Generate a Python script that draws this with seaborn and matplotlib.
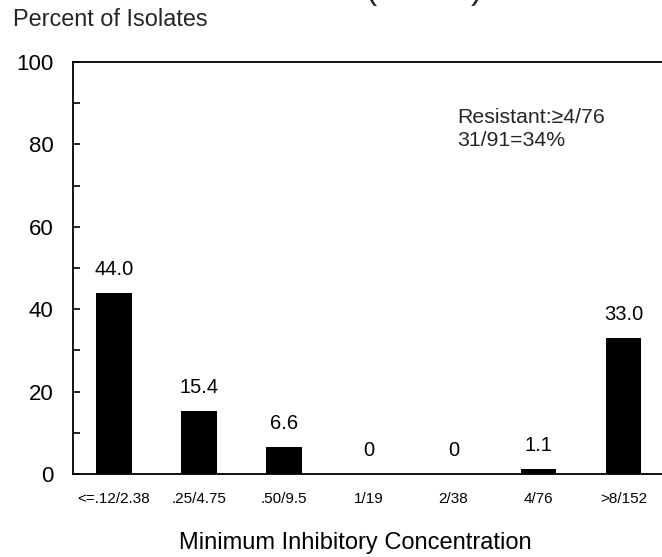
import matplotlib
matplotlib.use("Agg")
import matplotlib.pyplot as plt
import seaborn as sns
import pandas as pd
from matplotlib.ticker import MultipleLocator

categories = ["<=.12/2.38", ".25/4.75", ".50/9.5", "1/19", "2/38", "4/76", ">8/152"]
percent = [44.0, 15.4, 6.6, 0.0, 0.0, 1.1, 33.0]
value_labels = ["44.0", "15.4", "6.6", "0", "0", "1.1", "33.0"]
y_ticks = [0, 20, 40, 60, 80, 100]

sns.set_theme(style="white")
plt.rcParams['font.family'] = ['Liberation Sans', 'DejaVu Sans']

df = pd.DataFrame({"mic": categories, "pct": percent})

fig = plt.figure(figsize=(6.62, 5.57), dpi=100)
ax = fig.add_axes([73/662, 83/557, 593/662, 412/557])

sns.barplot(data=df, x="mic", y="pct", color="black", width=0.42,
            saturation=1, ax=ax, edgecolor="black", linewidth=0)

for i, (v, lab) in enumerate(zip(percent, value_labels)):
    ax.text(i, v + 3.4, lab, ha="center", va="bottom", fontsize=14.5, color="black")

ax.set_xlim(-0.48, 6.5)
ax.set_ylim(0, 100)
ax.set_yticks(y_ticks)
ax.set_yticklabels([str(t) for t in y_ticks], fontsize=16)
ax.yaxis.set_minor_locator(MultipleLocator(10))
ax.tick_params(axis="y", which="both", direction="in", length=5, width=1.2,
               left=True, colors="black", pad=14)
ax.tick_params(axis="x", bottom=False, labelsize=11, pad=7, colors="black")

for s in ["left", "bottom", "top"]:
    ax.spines[s].set_color("black")
    ax.spines[s].set_linewidth(1.3)
ax.spines["right"].set_visible(False)

ax.set_xlabel("Minimum Inhibitory Concentration", fontsize=17, color="black")
ax.xaxis.set_label_coords(0.4755, -0.1675)
ax.xaxis.label.set_va("center")
ax.set_ylabel("")

fig.text(13/662, 1 - 19/557, "Percent of Isolates", fontsize=16.9, va="center", ha="left")
fig.text(457/662, 1 - 118/557, "Resistant:\u22654/76", fontsize=15.3, va="center", ha="left")
fig.text(457/662, 1 - 141/557, "31/91=34%", fontsize=15.3, va="center", ha="left")
fig.text(424/662, 1.002, "(n = 91)", fontsize=24, va="baseline", ha="center")

fig.savefig("out.png", dpi=100)
